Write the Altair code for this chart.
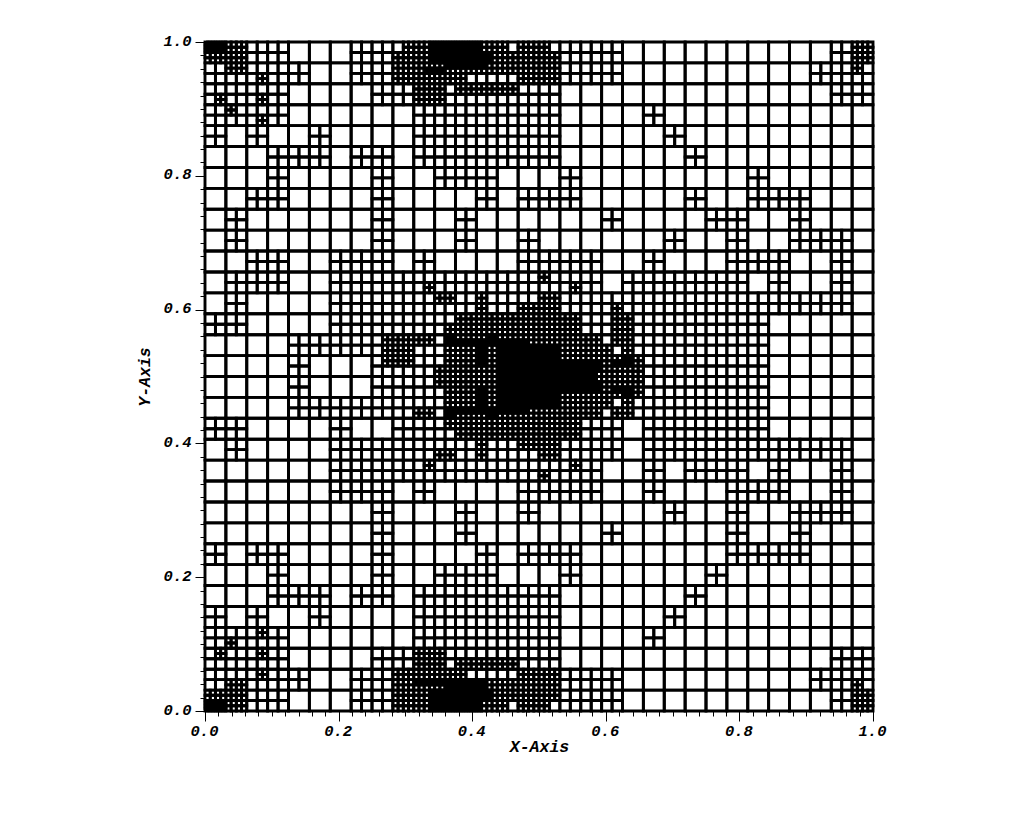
import altair as alt
import pandas as pd

alt.data_transformers.disable_max_rows()

# Absolute leaf size per 1/32 cell: . = 1/32, + = 1/64, # = 1/128, @ = 1/256.
# (abcd) splits a cell into TL, TR, BL, BR quadrants.
MESH_ROWS = [
    "(@@##) # + + . . . +  + (+###) (#(#@#@)#(#@#@)) @ @ ((@#@#)#@(@#@#)) (#+##) #  (#+##) + + + . . . .  . . . . . . + #",
    "+ (##++) (+++#) + + . . +  + # (#(##@@)##) ((##@@)(@@##)##) ((@@##)(@@##)#+) ((@@##)#++) (##++) #  # + + + . . . .  . . . . . + + (#+++)",
    "(+++#) + (+++#) + . . . .  + + # (#+#+) (##++) (##++) (##++) +  + . . . . . . .  . . . . . . + +",
    "+ (#+++) (+++#) + . . . .  . . + + + + + +  + . . . . + . .  . . . . . . . .",
    "+ . + . . + . .  . . + + + + + +  + . . . . . + .  . . . . . . . .",
    ". . . + + + . +  + . + + + + + +  + . . . . . . +  . . . . . . . .",
    ". . . + . . . .  + . . + + + . .  . + . . . . . .  . . + . . . . .",
    ". . + + . . . .  + . . . . + . +  + + . . . . . +  . . + + + . . .",
    ". + . . . . . .  + . . . + . . .  . . . + . . . .  + + . . + . . .",
    ". + . . . . . .  + . . . + . . +  . . . . . . + .  . + . . + + + .",
    ". . + + . . + +  + . + . . . . +  + + + . . + . .  . + + + . . + .",
    ". + + + . . + +  + + (+++#) + + + + +  (#+++) (+++#) + . + + + +  + + . + . . + .",
    ". + . . . . + +  + + + (##++) + (#+#+) + (++##)  # + + (+++#) + + + +  + + + + + + + .",
    "+ + . . . . + +  + + + (+++#) # # # #  # # + (+#+#) (#+#+) + + +  + + + . . . . .",
    ". . . . + + + +  (+#+#) # (##++) (+@+#) ((##@@)(##@@)##) ((##@@)@@#) ((##@@)(##@@)@@) ((##@@)#@@)  (##@@) # # (+##+) (#+#+) + + +  + + + . . . . .",
    ". . . . + . . .  (+#++) (##++) + (+###) # (@###) @ @  @ ((##@@)(##@@)@@) ((##@@)(##@@)@(@@@#)) (#(##@@)##) (@###) + + +  + + + . . . . .",
    ". . . . + . . .  + + + (##+#) # (##@#) @ @  @ (@@(@@##)(@@##)) (@(@#@@)(@@##)(@@##)) (###(@@##)) (##@#) + + +  + + + . . . . .",
    ". . . . + + + +  + + (++##) (+#+@) (##(@@##)(@@##)) (@#(@@##)@) (@@(@@##)(@@##)) (@@(@@##)#)  (@@##) # # (#++#) (#+#+) + + +  + + + . . . . .",
    "+ + . . . . + .  . + + (+#++) # # # #  # # + + . + + +  + + + . . . . .",
    ". + . . . . + +  + + + (++##) + (#+#+) + (##++)  # + + + . + + +  + + + + + + + .",
    ". . . . . . + +  + + (+#++) + + + + +  (++#+) (+#++) + . . + . +  + + . + . . + .",
    ". . . . . . + +  + . + . . . . +  + + + . . + . .  . + + + . . + .",
    ". . . . . . . .  + . . . + . . +  . . . . . . + .  . + . . + + + .",
    ". . . . . . . .  + . . . + . . .  . . . + . . . .  . + . . + . . .",
    "+ . + + . . . .  + . . . . + . +  + + . . . . . .  . + + + + . . .",
    ". . . + . . . .  + . . + + + . .  . + . . . . . .  + . . . . . . .",
    ". . . + + + . +  + . + + + + + +  + . . . . . . +  . . . . . . . .",
    "+ . + . . + . .  . . + + + + + +  + . . . . . + .  . . . . . . . .",
    "+ (++#+) (+#++) + . . . .  . . + + + + + +  + . . . . + . .  . . . . . . . .",
    "(+#++) + (+#++) + . . . .  + + # (#+#+) (++##) (++##) (++##) +  + . . . . . . .  . . . . . . + +",
    "+ (++##) (+#++) + + . . +  + # (##(@@##)(@@##)) (##(@@##)@) (#+@@) (++@#) (++##) #  # + + + . . . .  . . . . . + + (++#+)",
    "(##@@) # + + . . . +  + # (#(#@#@)#(#@#@)) @ @ (@(@#@#)(@#@#)#) (###+) #  (###+) + + + . . . .  . . . . . . + #",
]
TICKS = [i / 50 for i in range(51)]
X_TITLE = "X-Axis"
Y_TITLE = "Y-Axis"
LEAF = {".": 32, "+": 64, "#": 128, "@": 256}


def parse(text, pos):
    if text[pos] == "(":
        pos += 1
        kids = []
        while text[pos] != ")":
            kid, pos = parse(text, pos)
            kids.append(kid)
        return kids, pos + 1
    return text[pos], pos + 1


def emit(node, col, row, n, out):
    # col, row count cells of size 1/n from the top-left corner
    if isinstance(node, list):
        for q, kid in enumerate(node):
            emit(kid, col * 2 + q % 2, row * 2 + q // 2, n * 2, out)
    elif n < LEAF[node]:
        emit([node] * 4, col, row, n, out)
    else:
        out.append({"x": col / n, "x2": (col + 1) / n,
                    "y": 1 - row / n, "y2": 1 - (row + 1) / n})


cells = []
for r, line in enumerate(MESH_ROWS):
    tokens = []
    p = 0
    compact = line.replace(" ", "")
    while p < len(compact):
        t, p = parse(compact, p)
        tokens.append(t)
    if len(tokens) != 32:
        raise ValueError(f"row {r} has {len(tokens)} cells")
    for c, t in enumerate(tokens):
        emit(t, c, r, 32, cells)

df = pd.DataFrame(cells)

FONT = "Liberation Mono"
is_major = "abs(datum.value*5-round(datum.value*5))<0.001"
tick_size = {"condition": {"test": is_major, "value": 10}, "value": 5}
label_expr = f"{is_major} ? format(datum.value,'.1f') : ''"


def make_axis(title, **kw):
    return alt.Axis(
        title=title, values=TICKS, grid=False, tickColor="black", tickWidth=1,
        tickSize=tick_size, domainColor="black", domainWidth=1,
        labelExpr=label_expr, labelFont=FONT, labelFontSize=15.5,
        labelFontWeight="bold", labelFontStyle="italic", labelColor="black",
        labelOverlap=False, labelFlush=False, labelBound=False,
        titleFont=FONT, titleFontSize=16.5, titleFontWeight="bold",
        titleFontStyle="italic", titleColor="black", **kw)


chart = (
    alt.Chart(df)
    .mark_rect(filled=False, stroke="black", strokeWidth=2.9)
    .encode(
        x=alt.X("x:Q", scale=alt.Scale(domain=[0, 1], nice=False, zero=False),
                axis=make_axis(X_TITLE, labelPadding=2, titlePadding=0, labelOffset=-1)),
        x2="x2:Q",
        y=alt.Y("y:Q", scale=alt.Scale(domain=[0, 1], nice=False, zero=False),
                axis=make_axis(Y_TITLE, labelPadding=4, titlePadding=11, labelOffset=-2)),
        y2="y2:Q",
    )
    .properties(width=668, height=669,
                autosize=alt.AutoSizeParams(type="none"),
                padding={"left": 197, "top": 34, "right": 100, "bottom": 90})
    .configure_view(stroke=None)
)

chart.save("out.html", embed_options={"renderer": "svg", "actions": False})
